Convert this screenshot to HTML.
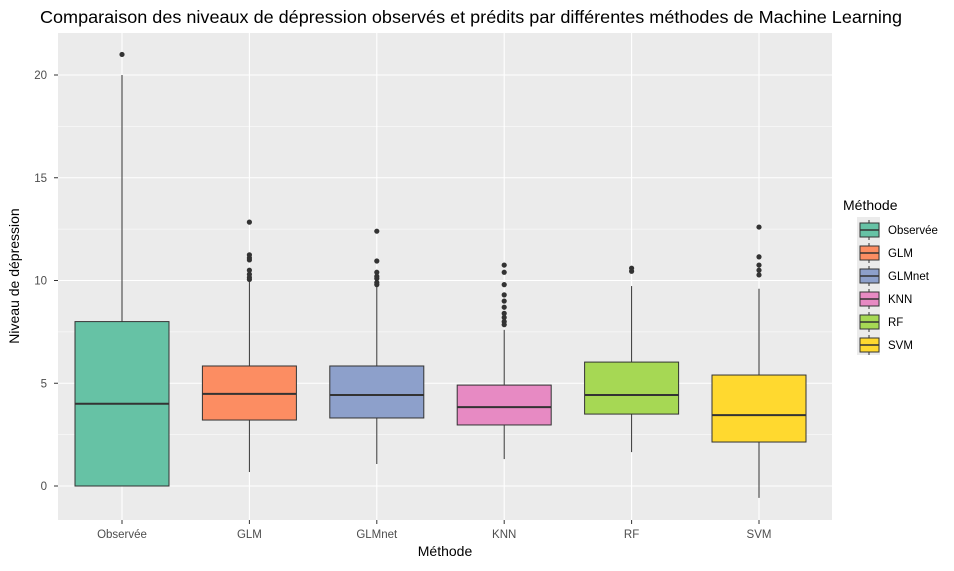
<!DOCTYPE html>
<html><head><meta charset="utf-8"><style>
body{margin:0;background:#fff;font-family:"Liberation Sans",Arial,sans-serif}
</style></head><body>
<svg width="954" height="566" xmlns="http://www.w3.org/2000/svg" font-family="Liberation Sans, Arial, sans-serif">
<text x="40" y="23" font-size="17.5" textLength="862" lengthAdjust="spacingAndGlyphs" fill="#000">Comparaison des niveaux de dépression observés et prédits par différentes méthodes de Machine Learning</text>
<rect x="58" y="33" width="774" height="487" fill="#ebebeb"/>
<g id="grid"></g>
<g id="boxes"></g>
<g id="axes"></g>
<text transform="translate(19,276) rotate(-90)" text-anchor="middle" font-size="14">Niveau de dépression</text>
<text x="445" y="556" text-anchor="middle" font-size="14">Méthode</text>
<g id="legend">
<text x="843" y="210" font-size="14">Méthode</text>
<rect x="857" y="217" width="23" height="138" fill="#ebebeb"/>
</g>
</svg>
<script>
const categories=["Observée","GLM","GLMnet","KNN","RF","SVM"];
const colors=["#66C2A5","#FC8D62","#8DA0CB","#E78AC3","#A6D854","#FFD92F"];
const q1=[0,3.21,3.31,2.97,3.5,2.14];
const medians=[4,4.48,4.43,3.84,4.43,3.45];
const q3=[8,5.84,5.84,4.91,6.03,5.4];
const whiskLow=[0,0.68,1.07,1.31,1.65,-0.58];
const whiskHigh=[20,9.93,9.68,7.6,9.73,9.6];
const outliers=[[21],[12.84,11.25,11.1,11.0,10.5,10.3,10.15,10.05],[12.4,10.95,10.4,10.2,10.1,9.9,9.8],[10.75,10.4,9.8,9.3,9.0,8.7,8.4,8.2,8.0,7.85],[10.6,10.45],[12.6,11.15,10.75,10.5,10.27]];
const yTicks=[0,5,10,15,20];
const NS="http://www.w3.org/2000/svg";
function y(v){return 486-v*20.55;}
function x(i){return 122+i*127.4;}
function mk(t,a,p){const e=document.createElementNS(NS,t);for(const k in a)e.setAttribute(k,a[k]);p.appendChild(e);return e;}
const grid=document.getElementById('grid'),boxes=document.getElementById('boxes'),axes=document.getElementById('axes'),legend=document.getElementById('legend');
for(let v=-2.5;v<=22.5;v+=2.5){const yy=y(v);if(yy<33||yy>520)continue;const major=v%5===0;
 const l=mk('line',{x1:58,x2:832,y1:yy,y2:yy,stroke:'#fff','stroke-width':major?1.1:0.55},grid);
 
 }
categories.forEach((c,i)=>{const l=mk('line',{x1:x(i),x2:x(i),y1:33,y2:520,stroke:'#fff','stroke-width':1.1},grid);
 
 });
yTicks.forEach(v=>{const t=mk('text',{x:47,y:y(v)+4,'text-anchor':'end','font-size':11.5,fill:'#4d4d4d'},axes);t.textContent=v;
 
 
 mk('line',{x1:54,x2:58,y1:y(v),y2:y(v),stroke:'#333'},axes);});
const hw=47;
categories.forEach((c,i)=>{const g=mk('g',{},boxes);
 
 
 mk('line',{x1:x(i),x2:x(i),y1:y(whiskHigh[i]),y2:y(q3[i]),stroke:'#333','stroke-width':1},g);
 mk('line',{x1:x(i),x2:x(i),y1:y(q1[i]),y2:y(whiskLow[i]),stroke:'#333','stroke-width':1},g);
 mk('rect',{x:x(i)-hw,y:y(q3[i]),width:2*hw,height:y(q1[i])-y(q3[i]),fill:colors[i],stroke:'#333','stroke-width':1},g);
 mk('line',{x1:x(i)-hw,x2:x(i)+hw,y1:y(medians[i]),y2:y(medians[i]),stroke:'#333','stroke-width':2},g);
 outliers[i].forEach(o=>{const p=mk('circle',{cx:x(i),cy:y(o),r:2.6,fill:'#333'},g);
  
  });
 mk('line',{x1:x(i),x2:x(i),y1:520,y2:524,stroke:'#333'},axes);
 const t=mk('text',{x:x(i),y:538,'text-anchor':'middle','font-size':11.5,fill:'#4d4d4d'},axes);t.textContent=c;
 
 
 const ky=230+i*23;const k=mk('g',{},legend);
 
 
 mk('line',{x1:869,x2:869,y1:ky-10,y2:ky+10,stroke:'#333'},k);
 mk('rect',{x:860,y:ky-7,width:19,height:14,fill:colors[i],stroke:'#333'},k);
 mk('line',{x1:860,x2:879,y1:ky,y2:ky,stroke:'#333','stroke-width':1.5},k);
 const lt=mk('text',{x:888,y:ky+4,'font-size':11.5},k);lt.textContent=c;});
</script>
</body></html>
